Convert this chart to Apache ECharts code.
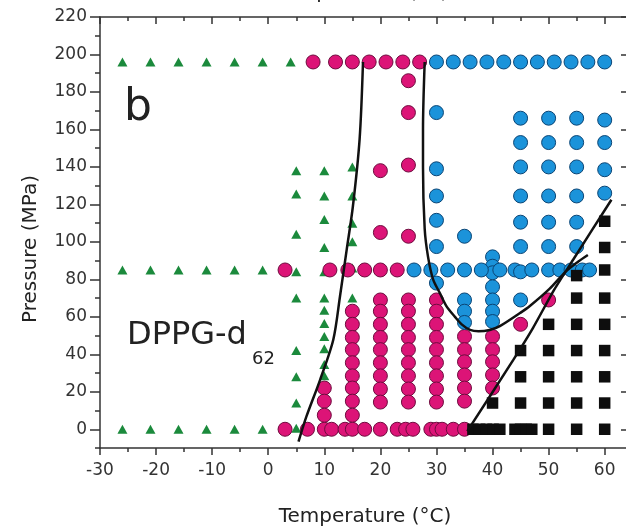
<!DOCTYPE html>
<html><head><meta charset="utf-8">
<script src="https://cdn.jsdelivr.net/npm/echarts@6/dist/echarts.min.js"></script>
<style>html,body{margin:0;padding:0;background:#fff}#c{width:626px;height:527px}</style>
</head><body><div id="c"></div><script>
// tick values
const xTicks = [-30,-20,-10,0,10,20,30,40,50,60];
const xMinorTicks = [-25,-15,-5,5,15,25,35,45,55];
const yTicks = [0,20,40,60,80,100,120,140,160,180,200,220];
const yMinorTicks = [-10,10,30,50,70,90,110,130,150,170,190,210];

// green triangles (gel phase)
const gelPoints = [
  [-26,196],[-21,196],[-16,196],[-11,196],[-6,196],[-1,196],[4,196],
  [-26,85],[-21,85],[-16,85],[-11,85],[-6,85],[-1,85],
  [-26,0],[-21,0],[-16,0],[-11,0],[-6,0],[-1,0],
  [5,138],[5,125.5],[5,104],[5,84],[5,70],[5,42],[5,28],[5,14],[5,0.5],
  [10,138],[10,124.5],[10,112],[10,97],[10,84],[10,70],[10,63.5],[10,56.5],[10,49.5],[10,43],[10,34.5],[10,28.5],
  [15,140],[15,124.5],[15,110],[15,100],[15,86],[15,70]
];
// magenta circles
const magentaPoints = [
  [8,196],[12,196],[15,196],[18,196],[21,196],[24,196],[27,196],
  [25,186],[25,169],[25,141],[20,138],[20,105],[25,103],
  [3,85],[11,85],[14.2,85],[17.2,85],[20,85],[23,85],
  [3,0],[7,0],[10,0],[11.3,0],[13.7,0],[15,0],[17.2,0],[20,0],[23,0],[24.5,0],[25.8,0],[29,0],[30,0],[31,0],[33,0],[35,0],
  [10,22],[10,15],[10,7.5],
  [15,63],[15,56],[15,49],[15,42.5],[15,35.5],[15,28.5],[15,22],[15,15],[15,7.5],
  [20,69],[20,63],[20,56],[20,49],[20,42.5],[20,35.5],[20,28.5],[20,21.5],[20,14.5],
  [25,69],[25,63],[25,56],[25,49],[25,42.5],[25,35.5],[25,28.5],[25,21.5],[25,14.5],
  [30,69],[30,63],[30,56],[30,49],[30,42.5],[30,35.5],[30,28.5],[30,21.5],[30,14.5],
  [35,49.5],[35,42.5],[35,36],[35,29],[35,22],[35,15],
  [40,49.5],[40,42.5],[40,36],[40,29],[40,22],
  [45,56],[50,69]
];
// blue circles
const bluePoints = [
  [30,196],[33,196],[36,196],[39,196],[42,196],[45,196],[48,196],[51,196],[54,196],[57,196],[60,196],
  [30,169],[30,139],[30,124.5],[30,111.5],[30,97.5],[30,78],
  [35,103],[35,69],[35,63],[35,57],
  [40,92],[40,87],[40,83.5],[40,76],[40,69],[40,63],[40,57.5],
  [26,85],[29,85],[32,85],[35,85],[38,85],[41.3,85],[44,85],[45,84],[47,85],[50,85],[52,85],[54,85],[56,85],[57.3,85],
  [45,166],[45,153],[45,140],[45,124.5],[45,110.5],[45,97.5],[45,69],
  [50,166],[50,153],[50,140],[50,124.5],[50,110.5],[50,97.5],
  [55,166],[55,153],[55,140],[55,124.5],[55,110.5],[55,97.5],
  [60,165],[60,153],[60,138.5],[60,126]
];
// black squares
const blackPoints = [
  [36.5,0],[37.7,0],[38.9,0],[40.1,0],[41.3,0],[44,0],[45,0],[46,0],[47,0],[50,0],[55,0],[60,0],
  [40,14],
  [45,14],[45,28],[45,42],
  [50,14],[50,28],[50,42],[50,56],
  [55,14],[55,28],[55,42],[55,56],[55,70],[55,82],
  [60,14],[60,28],[60,42],[60,56],[60,70],[60,85],[60,97],[60,111]
];
// boundary lines
const leftBoundary = [[5.4,-6.6],[6.8,6.7],[9.2,26],[11.6,47.8],[12.8,71],[14,96],[15.1,119],[16.3,155],[16.9,196]];
const rightBoundary = [[27.9,196],[27.6,160],[27.6,140],[27.9,107],[28.5,92],[29.4,80],[30.6,72.7],[31.8,65.6],[33.3,60],[34.5,56],[36,53],[37.5,52.3],[39.5,53],[41.3,55],[44.9,62],[46.6,65.6],[50.2,75],[53,84],[55.3,89.5],[57,93]];
const straightBoundary = [[35.5,-1],[43.7,37],[47.2,54],[51,74.5],[54.4,90.6],[61.2,122.5]];

const FONT = 'DejaVu Sans';
const AX = '#333';
const xMin = -30, xMax = 63.8, yMin = -10, yMax = 220;

function xAx(opts){
  return Object.assign({type:'value',min:xMin,max:xMax,splitLine:{show:false},
    axisLine:{show:true,onZero:false,lineStyle:{color:AX,width:1.5}},axisLabel:{show:false},axisTick:{show:false}},opts);
}
function yAx(opts){
  return Object.assign({type:'value',min:yMin,max:yMax,splitLine:{show:false},
    axisLine:{show:true,onZero:false,lineStyle:{color:AX,width:1.5}},axisLabel:{show:false},axisTick:{show:false}},opts);
}
const noLine = {show:false,onZero:false};

const chart = echarts.init(document.getElementById('c'));
chart.setOption({
  animation:false,
  backgroundColor:'#fff',
  grid:{left:100,right:0,top:17,bottom:79,containLabel:false},
  xAxis:[
    xAx({position:'bottom',
      axisTick:{show:true,length:7,lineStyle:{color:AX,width:1.5},customValues:xTicks},
      axisLabel:{show:true,customValues:xTicks,margin:14,color:AX,fontFamily:FONT,fontSize:17}}),
    xAx({position:'bottom',axisLine:noLine,
      axisTick:{show:true,length:4,lineStyle:{color:AX,width:1.5},customValues:xMinorTicks}}),
    xAx({position:'top',
      axisTick:{show:true,inside:true,length:7,lineStyle:{color:AX,width:1.5},customValues:xTicks}}),
    xAx({position:'top',axisLine:noLine,
      axisTick:{show:true,inside:true,length:4,lineStyle:{color:AX,width:1.5},customValues:xMinorTicks}})
  ],
  yAxis:[
    yAx({position:'left',
      axisTick:{show:true,length:10,lineStyle:{color:AX,width:1.5},customValues:yTicks},
      axisLabel:{show:true,customValues:yTicks,margin:13,color:AX,fontFamily:FONT,fontSize:17}}),
    yAx({position:'left',axisLine:noLine,
      axisTick:{show:true,length:5,lineStyle:{color:AX,width:1.5},customValues:yMinorTicks}}),
    yAx({position:'right',axisLine:noLine,
      axisTick:{show:true,inside:true,length:5,lineStyle:{color:AX,width:1.5},customValues:yTicks}})
  ],
  series:[
    {type:'scatter',data:gelPoints,symbol:'triangle',symbolSize:[10,9],
      itemStyle:{color:'#1b8a3c',opacity:1},z:3},
    {type:'scatter',data:magentaPoints,symbol:'circle',symbolSize:14,
      itemStyle:{color:'#dc1477',borderColor:'#6e0c3e',borderWidth:1,opacity:1},z:4},
    {type:'scatter',data:bluePoints,symbol:'circle',symbolSize:14,
      itemStyle:{color:'#1b93da',borderColor:'#0b4575',borderWidth:1,opacity:1},z:4},
    {type:'scatter',data:blackPoints,symbol:'rect',symbolSize:11.5,
      itemStyle:{color:'#0e0e0e',opacity:1},z:4},
    {type:'line',data:leftBoundary,smooth:0.3,showSymbol:false,symbol:'none',
      lineStyle:{color:'#111',width:2.5},z:6},
    {type:'line',data:rightBoundary,smooth:0.3,showSymbol:false,symbol:'none',
      lineStyle:{color:'#111',width:2.5},z:6},
    {type:'line',data:straightBoundary,smooth:0.2,showSymbol:false,symbol:'none',
      lineStyle:{color:'#111',width:2.5},z:6}
  ],
  graphic:[
    {type:'text',left:124,top:87,style:{text:'b',font:'44px "DejaVu Sans"',fill:'#222'}},
    {type:'text',left:127,top:320,style:{text:'DPPG-d',font:'32px "DejaVu Sans"',fill:'#222'}},
    {type:'text',left:252,top:350,style:{text:'62',font:'18px "DejaVu Sans"',fill:'#222'}},
    {type:'text',x:365,y:517,style:{text:'Temperature (°C)',font:'20px "DejaVu Sans"',fill:'#222',align:'center',verticalAlign:'middle'}},
    {type:'text',x:31,y:249,rotation:Math.PI/2,style:{text:'Pressure (MPa)',font:'20px "DejaVu Sans"',fill:'#222',align:'center',verticalAlign:'middle'}},
    {type:'text',x:362,y:3,style:{text:'Temperature (°C)',font:'20px "DejaVu Sans"',fill:'#222',align:'center',verticalAlign:'bottom'}}
  ]
});
</script></body></html>
